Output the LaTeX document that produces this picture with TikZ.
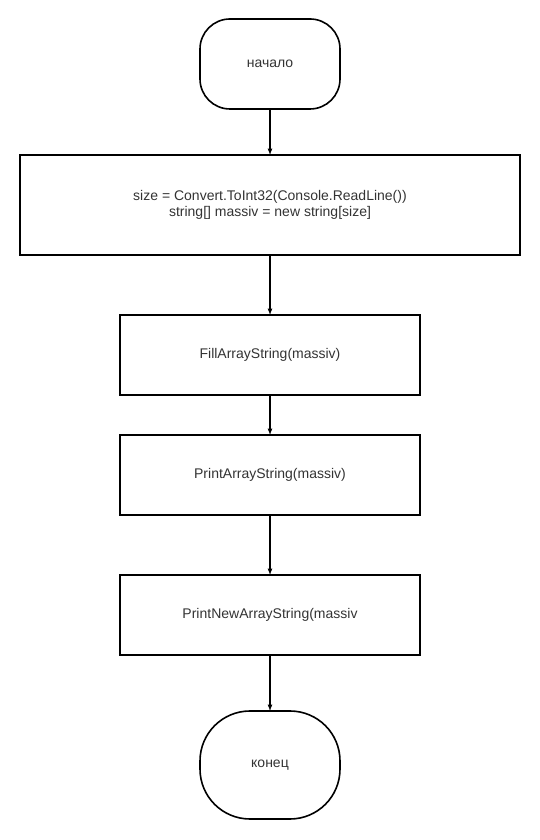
\documentclass[tikz,border=0pt]{standalone}
\usepackage{fontspec}
\setmainfont{Liberation Sans}
\usetikzlibrary{positioning,shapes,arrows}

\begin{document}
\begin{tikzpicture}[
	x=1pt, y=1pt,
	node distance=46pt,
	every node/.style={font=\fontsize{14}{16}\selectfont, text=black!80},
	terminal/.style={draw,line width=1.6pt,outer sep=0pt,minimum width=140pt,align=center},
	process/.style={draw,line width=1.6pt,outer sep=0pt,minimum width=300pt,minimum height=80pt,align=center}
	]
	\useasboundingbox (0,0) rectangle (540,840);
	\node[terminal, rounded corners=30pt, minimum height=90pt] at (270,776) (start) {начало};
	\node[process, below=46pt of start, minimum width=500pt, minimum height=100pt] (sizeinput)
	{size = Convert.ToInt32(Console.ReadLine())\\string[] massiv = new string[size]};
	\node[process, below=60pt of sizeinput] (fillarray) {FillArrayString(massiv)};
	\node[process, below=40pt of fillarray] (printarray) {PrintArrayString(massiv)};
	\node[process, below=60pt of printarray] (printnewarray) {PrintNewArrayString(massiv};
	\node[terminal, rounded corners=50pt, minimum height=108pt, below=56pt of printnewarray] (finish) {конец};
	\path [-latex, line width=1.2pt]
	(start) edge (sizeinput)
	(sizeinput) edge (fillarray)
	(fillarray) edge (printarray)
	(printarray) edge (printnewarray)
	(printnewarray) edge (finish);
\end{tikzpicture}
\end{document}
